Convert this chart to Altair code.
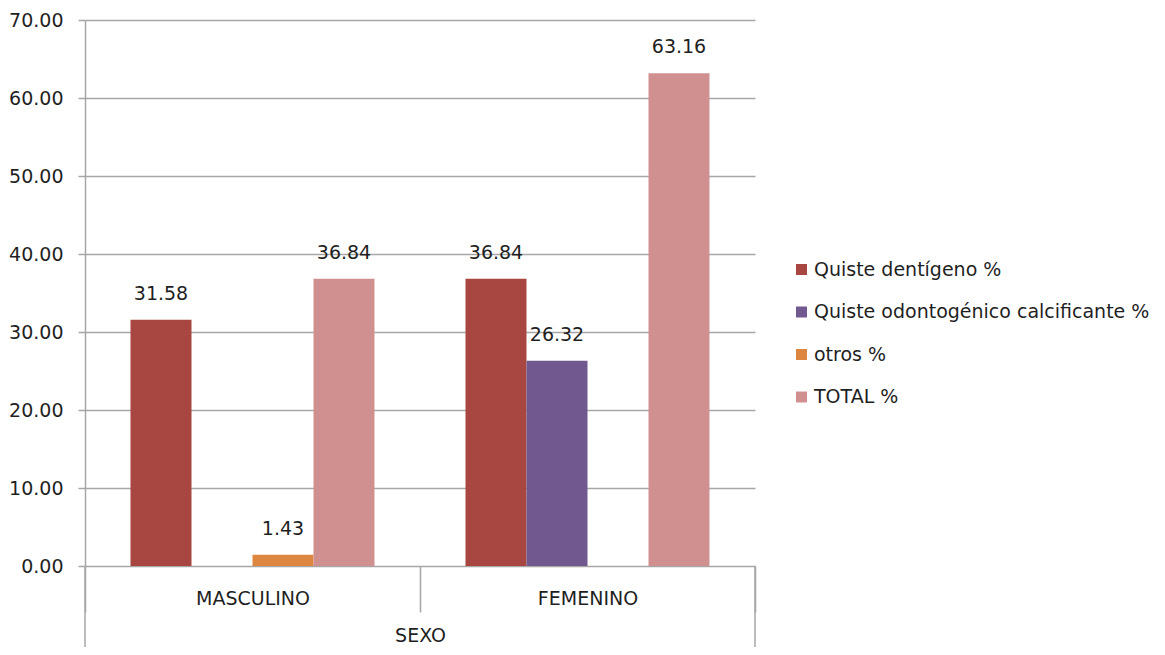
import altair as alt
import pandas as pd

sexos = ["MASCULINO", "FEMENINO"]
series = ["Quiste dentígeno %", "Quiste odontogénico calcificante %", "otros %", "TOTAL %"]
colores = ["#A84641", "#71588F", "#DD8640", "#D09090"]

masculino = [31.58, None, 1.43, 36.84]
femenino = [36.84, 26.32, None, 63.16]

rows = []
for sexo, vals in zip(sexos, [masculino, femenino]):
    for s, v in zip(series, vals):
        if v is not None:
            rows.append({"sexo": sexo, "serie": s, "valor": v})
df = pd.DataFrame(rows)

FONT = "DejaVu Sans"
FS = 19
TXT = "#1f1f1f"
GRID = "#A6A6A6"

W, H = 670, 546

x = alt.X("sexo:N", sort=sexos,
          scale=alt.Scale(paddingInner=0, paddingOuter=0),
          axis=alt.Axis(title="SEXO", labelAngle=0, tickBand="extent", tickSize=46,
                        tickColor=GRID, tickWidth=1.5, domain=False, grid=False,
                        labelPadding=-23, titlePadding=14,
                        labelFont=FONT, labelFontSize=FS, labelColor=TXT,
                        titleFont=FONT, titleFontSize=FS, titleColor=TXT,
                        titleFontWeight="normal"))
xo = alt.XOffset("serie:N", sort=series,
                 scale=alt.Scale(domain=series, paddingInner=0, paddingOuter=0.746))
y = alt.Y("valor:Q", scale=alt.Scale(domain=[0, 70]),
          axis=alt.Axis(title=None, values=list(range(0, 71, 10)), format=".2f",
                        tickSize=7, tickColor=GRID, tickWidth=1.5,
                        domainColor=GRID, domainWidth=1.5,
                        gridColor=GRID, gridWidth=1.5,
                        labelPadding=15, labelFont=FONT, labelFontSize=FS,
                        labelColor=TXT))

bars = alt.Chart(df).mark_bar().encode(
    x=x, xOffset=xo, y=y,
    color=alt.Color("serie:N", sort=series,
                    scale=alt.Scale(domain=series, range=colores),
                    legend=alt.Legend(title=None, orient="none", legendX=707, legendY=240,
                                      symbolType="square", symbolSize=121,
                                      symbolStrokeWidth=0, labelFont=FONT,
                                      labelFontSize=FS, labelColor=TXT,
                                      labelOffset=3, rowPadding=22.5, padding=0,
                                      labelLimit=400)),
)

labels = alt.Chart(df).mark_text(baseline="bottom", dy=-16, font=FONT, fontSize=FS,
                                 color=TXT).encode(
    x=alt.X("sexo:N", sort=sexos), xOffset=alt.XOffset("serie:N", sort=series),
    y="valor:Q", text=alt.Text("valor:Q", format=".2f"))

left_line = alt.Chart(pd.DataFrame({"k": [0]})).mark_rule(color=GRID, strokeWidth=1.5).encode(
    x=alt.value(0), y=alt.value(H), y2=alt.value(H + 100))
right_line = alt.Chart(pd.DataFrame({"k": [0]})).mark_rule(color=GRID, strokeWidth=1.5).encode(
    x=alt.value(W), y=alt.value(H), y2=alt.value(H + 100))

chart = alt.layer(bars, labels, left_line, right_line).properties(
    width=W, height=H,
    autosize=alt.AutoSizeParams(type="none"),
    padding={"left": 77, "top": 12, "right": 402, "bottom": 81},
).configure(background="white").configure_view(stroke="transparent", strokeWidth=0)

chart.save("out.html", embed_options={"renderer": "svg", "actions": False})
